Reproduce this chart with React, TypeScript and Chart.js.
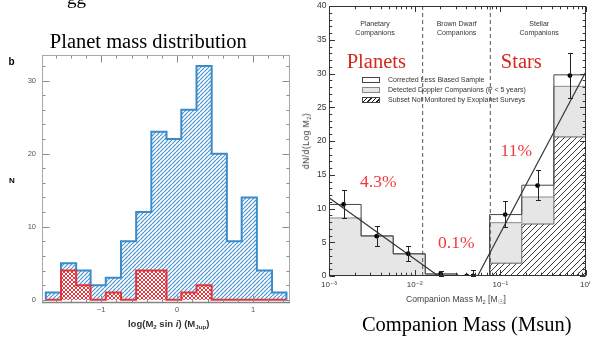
import React, { useEffect, useRef } from 'react';
import { Chart, registerables } from 'chart.js';

Chart.register(...registerables);

// ---------- Left panel: planet mass distribution ----------
const planetBinEdges = [-1.73, -1.53, -1.33, -1.14, -0.94, -0.74, -0.54, -0.34, -0.14, 0.055, 0.255, 0.455, 0.655, 0.85, 1.05, 1.25, 1.44];
const allPlanetCounts = [1, 5, 4, 2, 3, 8, 12, 23, 22, 26, 32, 20, 8, 14, 4, 1];
const subsetPlanetCounts = [0, 4, 2, 0, 1, 0, 4, 4, 0, 1, 2, 0, 0, 0, 0, 0];
const planetXTicks = [-1, 0, 1];
const planetXTickLabels = ['−1', '0', '1'];
const planetYTicks = [0, 10, 20, 30];
const planetYTickLabels = ['0', '10', '20', '30'];

// ---------- Right panel: companion mass function ----------
const massBinEdges = [0.001, 0.00237, 0.00562, 0.0133, 0.0316, 0.075, 0.178, 0.422, 1];
const correctedValues = [10.6, 5.95, 3.3, 0.3, 0, 9.1, 13.45, 29.8];
const detectedValues = [8.6, 5.9, 3.25, 0.3, 0, 7.9, 11.7, 28.1];
const notMonitoredValues = [0, 0, 0, 0, 0, 1.9, 7.7, 20.6];
const pointMasses = [0.00148, 0.00361, 0.00841, 0.0201, 0.0405, 0.0479, 0.114, 0.272, 0.649];
const pointValues = [10.6, 5.9, 3.3, 0.3, 0, 0, 9.1, 13.4, 29.7];
const pointLow = [8.6, 4.5, 2.2, 0, 0, 0, 7.2, 11.2, 26.4];
const pointHigh = [12.7, 7.4, 4.4, 0.7, 0, 0.9, 11.1, 15.7, 33.0];
const planetFitMass = [0.001, 0.0189];
const planetFitValue = [11.6, 0];
const stellarFitMass = [0.0543, 1];
const stellarFitValue = [0, 30.3];
const boundaryMasses = [0.0124, 0.0764];
const massXTicks = [0.001, 0.01, 0.1, 1];
const massXTickLabels = ['10⁻³', '10⁻²', '10⁻¹', '10⁰'];
const massYTicks = [0, 5, 10, 15, 20, 25, 30, 35, 40];
const massYTickLabels = ['0', '5', '10', '15', '20', '25', '30', '35', '40'];
const legendLabels = [
  'Corrected Less Biased Sample',
  'Detected Doppler Companions (P < 5 years)',
  'Subset Not Monitored by Exoplanet Surveys',
];

// minor tick positions
const planetMinorX: number[] = [];
for (let k = -8; k <= 7; k++) if (k % 5 !== 0) planetMinorX.push(k / 5);
const planetMinorY: number[] = [];
for (let k = 1; k <= 16; k++) if (k % 5 !== 0) planetMinorY.push(k * 2);
const massMinorX: number[] = [];
for (const d of [0.001, 0.01, 0.1]) for (let m = 2; m <= 9; m++) massMinorX.push(m * d);
const massMinorY: number[] = [];
for (let k = 1; k < 40; k++) if (k % 5 !== 0) massMinorY.push(k);

function stepPoints(edges: number[], counts: number[]) {
  const pts = [{ x: edges[0], y: 0 }];
  counts.forEach((c, i) => pts.push({ x: edges[i], y: c }));
  pts.push({ x: edges[edges.length - 1], y: counts[counts.length - 1] });
  pts.push({ x: edges[edges.length - 1], y: 0 });
  return pts;
}

function makePattern(ctx: CanvasRenderingContext2D, size: number, color: string, lw: number, cross: boolean) {
  const c = document.createElement('canvas');
  c.width = size;
  c.height = size;
  const g = c.getContext('2d')!;
  g.fillStyle = '#ffffff';
  g.fillRect(0, 0, size, size);
  g.strokeStyle = color;
  g.lineWidth = lw;
  g.beginPath();
  for (const o of [-size, 0, size]) {
    g.moveTo(o, size);
    g.lineTo(o + size, 0);
  }
  g.stroke();
  if (cross) {
    g.beginPath();
    for (const o of [-size, 0, size]) {
      g.moveTo(o, 0);
      g.lineTo(o + size, size);
    }
    g.stroke();
  }
  return ctx.createPattern(c, 'repeat')!;
}

interface FrameSpec {
  xMajor: number[]; xMinor: number[]; yMajor: number[]; yMinor: number[];
  tickColor: string; frameColor: string; bottomColor: string; bottomWidth: number;
  majorLen: number; minorLen: number;
}

function framePlugin(spec: FrameSpec) {
  return {
    id: 'frameTicks',
    afterDatasetsDraw(chart: any) {
      const { ctx, chartArea: a, scales } = chart;
      const xs = scales.x;
      const ys = scales.y;
      const L = Math.round(a.left) + 0.5;
      const R = Math.round(a.right) - 0.5;
      const T = Math.round(a.top) + 0.5;
      const B = Math.round(a.bottom) - 0.5;
      ctx.save();
      ctx.lineWidth = 1;
      ctx.strokeStyle = spec.tickColor;
      const seg = (x1: number, y1: number, x2: number, y2: number) => {
        ctx.beginPath();
        ctx.moveTo(x1, y1);
        ctx.lineTo(x2, y2);
        ctx.stroke();
      };
      const xTick = (v: number, len: number) => {
        const p = Math.round(xs.getPixelForValue(v)) + 0.5;
        seg(p, B, p, B - len);
        seg(p, T, p, T + len);
      };
      const yTick = (v: number, len: number) => {
        const p = Math.round(ys.getPixelForValue(v)) + 0.5;
        seg(L, p, L + len, p);
        seg(R, p, R - len, p);
      };
      spec.xMajor.forEach((v) => xTick(v, spec.majorLen));
      spec.xMinor.forEach((v) => xTick(v, spec.minorLen));
      spec.yMajor.forEach((v) => yTick(v, spec.majorLen));
      spec.yMinor.forEach((v) => yTick(v, spec.minorLen));
      ctx.strokeStyle = spec.frameColor;
      ctx.strokeRect(L, T, R - L, B - T);
      ctx.strokeStyle = spec.bottomColor;
      ctx.lineWidth = spec.bottomWidth;
      seg(L - 0.5, B, R + 0.5, B);
      ctx.restore();
    },
  };
}

const errorBarPlugin = {
  id: 'errorBars',
  afterDatasetsDraw(chart: any) {
    const { ctx, scales } = chart;
    const xs = scales.x;
    const ys = scales.y;
    ctx.save();
    ctx.strokeStyle = '#222';
    ctx.lineWidth = 1;
    pointMasses.forEach((m, i) => {
      if (pointHigh[i] <= pointLow[i]) return;
      const px = Math.round(xs.getPixelForValue(m)) + 0.5;
      const lo = Math.round(ys.getPixelForValue(pointLow[i])) + 0.5;
      const hi = Math.round(ys.getPixelForValue(pointHigh[i])) + 0.5;
      ctx.beginPath();
      ctx.moveTo(px, lo);
      ctx.lineTo(px, hi);
      ctx.moveTo(px - 2.5, lo);
      ctx.lineTo(px + 2.5, lo);
      ctx.moveTo(px - 2.5, hi);
      ctx.lineTo(px + 2.5, hi);
      ctx.stroke();
    });
    ctx.restore();
  },
};

const SANS = '"Liberation Sans", Arial, sans-serif';
const SERIF = '"Liberation Serif", "Times New Roman", serif';

function Label(props: {
  x: number; base: number; size: number; serif?: boolean; color?: string; bold?: boolean;
  align?: 'center' | 'left'; family?: string; spacing?: number; children: React.ReactNode;
}) {
  const { x, base, size, serif, color = '#000', bold, align = 'center', family, spacing, children } = props;
  const k = serif ? 0.8375 : 0.8465;
  return (
    <div
      style={{
        position: 'absolute',
        left: x,
        top: base - k * size,
        fontFamily: family || (serif ? SERIF : SANS),
        fontSize: size,
        lineHeight: `${size}px`,
        color,
        fontWeight: bold ? 700 : 400,
        whiteSpace: 'nowrap',
        letterSpacing: spacing,
        transform: align === 'center' ? 'translateX(-50%)' : undefined,
      }}
    >
      {children}
    </div>
  );
}

function Sub({ children, scale = 0.65 }: { children: React.ReactNode; scale?: number }) {
  return <span style={{ fontSize: `${scale}em`, verticalAlign: '-0.3em', lineHeight: 1 }}>{children}</span>;
}

export default function App() {
  const leftRef = useRef<HTMLCanvasElement>(null);
  const rightRef = useRef<HTMLCanvasElement>(null);

  useEffect(() => {
    const canvas = leftRef.current!;
    const ctx = canvas.getContext('2d')!;
    const blue = '#3a8bca';
    const red = '#e2343a';
    const bluePattern = makePattern(ctx, 4, '#4a95cf', 1.2, false);
    const redPattern = makePattern(ctx, 4, '#e0383e', 1, true);
    const tickFont = { size: 7.5, family: SANS };
    const chart = new Chart(ctx, {
      type: 'line',
      data: {
        datasets: [
          {
            label: 'subset',
            data: stepPoints(planetBinEdges, subsetPlanetCounts),
            stepped: true,
            borderColor: red,
            borderWidth: 2,
            backgroundColor: redPattern,
            fill: 'origin',
            pointRadius: 0,
            order: 1,
          },
          {
            label: 'all',
            data: stepPoints(planetBinEdges, allPlanetCounts),
            stepped: true,
            borderColor: blue,
            borderWidth: 2,
            backgroundColor: bluePattern,
            fill: 'origin',
            pointRadius: 0,
            order: 2,
          },
        ],
      },
      options: {
        animation: false,
        responsive: false,
        maintainAspectRatio: false,
        layout: { padding: { top: 55, right: 10.5, left: 0, bottom: 0 } },
        plugins: { legend: { display: false }, tooltip: { enabled: false } },
        scales: {
          x: {
            type: 'linear',
            min: -1.78,
            max: 1.48,
            grid: { display: false, drawTicks: false },
            border: { display: false },
            ticks: {
              color: '#555',
              font: tickFont,
              padding: 3,
              maxRotation: 0,
              autoSkip: false,
              callback: (_v: any, i: number) => planetXTickLabels[i],
            },
            afterBuildTicks: (s: any) => {
              s.ticks = planetXTicks.map((v) => ({ value: v }));
            },
            afterFit: (s: any) => {
              s.height = 338 - 302.7;
              s.paddingLeft = 0;
              s.paddingRight = 0;
            },
          },
          y: {
            type: 'linear',
            min: -0.4,
            max: 33.5,
            grid: { display: false, drawTicks: false },
            border: { display: false },
            ticks: {
              color: '#555',
              font: tickFont,
              padding: 6,
              autoSkip: false,
              callback: (_v: any, i: number) => planetYTickLabels[i],
            },
            afterBuildTicks: (s: any) => {
              s.ticks = planetYTicks.map((v) => ({ value: v }));
            },
            afterFit: (s: any) => {
              s.width = 42;
              s.paddingTop = 0;
              s.paddingBottom = 0;
            },
          },
        },
      },
      plugins: [
        framePlugin({
          xMajor: planetXTicks, xMinor: planetMinorX, yMajor: planetYTicks, yMinor: planetMinorY,
          tickColor: '#8a8a8a', frameColor: '#a8a8a8', bottomColor: '#858585', bottomWidth: 1.5,
          majorLen: 7, minorLen: 3,
        }),
      ],
    } as any);
    return () => chart.destroy();
  }, []);

  useEffect(() => {
    const canvas = rightRef.current!;
    const ctx = canvas.getContext('2d')!;
    const hatch = makePattern(ctx, 6, '#222', 0.9, false);
    const datasets: any[] = [
      {
        label: 'detected',
        data: stepPoints(massBinEdges, detectedValues),
        stepped: true,
        borderColor: '#8a8a8a',
        borderWidth: 1,
        backgroundColor: '#e6e6e6',
        fill: 'origin',
        pointRadius: 0,
        order: 6,
      },
      {
        label: 'notMonitored',
        data: stepPoints(massBinEdges, notMonitoredValues),
        stepped: true,
        borderColor: '#666',
        borderWidth: 1,
        backgroundColor: hatch,
        fill: 'origin',
        pointRadius: 0,
        order: 5,
      },
      {
        label: 'corrected',
        data: stepPoints(massBinEdges, correctedValues),
        stepped: true,
        borderColor: '#444',
        borderWidth: 1,
        fill: false,
        pointRadius: 0,
        order: 4,
      },
      ...boundaryMasses.map((m) => ({
        label: 'boundary',
        data: [{ x: m, y: 0 }, { x: m, y: 40 }],
        borderColor: '#555',
        borderWidth: 1,
        borderDash: [4, 3],
        fill: false,
        pointRadius: 0,
        order: 3,
      })),
      {
        label: 'planetFit',
        data: planetFitMass.map((m, i) => ({ x: m, y: planetFitValue[i] })),
        borderColor: '#333',
        borderWidth: 1.2,
        fill: false,
        pointRadius: 0,
        order: 2,
      },
      {
        label: 'stellarFit',
        data: stellarFitMass.map((m, i) => ({ x: m, y: stellarFitValue[i] })),
        borderColor: '#333',
        borderWidth: 1.2,
        fill: false,
        pointRadius: 0,
        order: 2,
      },
      {
        label: 'points',
        data: pointMasses.map((m, i) => ({ x: m, y: pointValues[i] })),
        showLine: false,
        pointRadius: 2.4,
        pointBackgroundColor: '#000',
        pointBorderColor: '#000',
        pointBorderWidth: 0,
        order: 1,
      },
    ];
    const chart = new Chart(ctx, {
      type: 'line',
      data: { datasets },
      options: {
        animation: false,
        responsive: false,
        maintainAspectRatio: false,
        layout: { padding: { top: 6, right: 3.3, left: 0, bottom: 0 } },
        plugins: { legend: { display: false }, tooltip: { enabled: false } },
        scales: {
          x: {
            type: 'logarithmic',
            min: 0.001,
            max: 1,
            grid: { display: false, drawTicks: false },
            border: { display: false },
            ticks: {
              color: '#333',
              font: { size: 8, family: '"Liberation Sans", "DejaVu Sans", sans-serif' },
              padding: 4,
              maxRotation: 0,
              autoSkip: false,
              callback: (_v: any, i: number) => massXTickLabels[i],
            },
            afterBuildTicks: (s: any) => {
              s.ticks = massXTicks.map((v) => ({ value: v }));
            },
            afterFit: (s: any) => {
              s.height = 62;
              s.paddingLeft = 0;
              s.paddingRight = 0;
            },
          },
          y: {
            type: 'linear',
            min: 0,
            max: 40,
            grid: { display: false, drawTicks: false },
            border: { display: false },
            ticks: {
              color: '#333',
              font: { size: 8.5, family: SANS },
              padding: 2.5,
              autoSkip: false,
              callback: (_v: any, i: number) => massYTickLabels[i],
            },
            afterBuildTicks: (s: any) => {
              s.ticks = massYTicks.map((v) => ({ value: v }));
            },
            afterFit: (s: any) => {
              s.width = 29;
              s.paddingTop = 0;
              s.paddingBottom = 0;
            },
          },
        },
      },
      plugins: [
        errorBarPlugin,
        framePlugin({
          xMajor: massXTicks, xMinor: massMinorX, yMajor: massYTicks, yMinor: massMinorY,
          tickColor: '#333', frameColor: '#333', bottomColor: '#333', bottomWidth: 1,
          majorLen: 5.5, minorLen: 2.8,
        }),
      ],
    } as any);
    return () => chart.destroy();
  }, []);

  const swatches: React.CSSProperties[] = [
    { background: '#fff', border: '1px solid #444' },
    { background: '#e6e6e6', border: '1px solid #888' },
    { background: 'repeating-linear-gradient(135deg, #fff 0 2.2px, #222 2.2px 3.2px)', border: '1px solid #444' },
  ];

  return (
    <div style={{ position: 'fixed', left: 0, top: 0, width: 590, height: 338, background: '#fff', overflow: 'hidden' }}>
      <canvas ref={leftRef} width={300} height={338} style={{ position: 'absolute', left: 0, top: 0, width: 300, height: 338 }} />
      <canvas ref={rightRef} width={290} height={338} style={{ position: 'absolute', left: 300, top: 0, width: 290, height: 338 }} />

      {/* cut-off text from above */}
      <Label x={67} base={4} size={19} serif align="left">gg</Label>

      {/* left panel texts */}
      <Label x={148.3} base={48.3} size={20.5} serif>Planet mass distribution</Label>
      <Label x={8.5} base={65} size={10} bold align="left">b</Label>
      <Label x={9} base={183.5} size={8} bold align="left">N</Label>
      <Label x={168.7} base={327} size={9.5} bold color="#333">
        log(M<Sub>2</Sub> sin <i>i</i>) (M<Sub>Jup</Sub>)
      </Label>

      {/* right panel texts */}
      <Label x={375} base={25.5} size={7} color="#333">Planetary</Label>
      <Label x={375} base={35.3} size={7} color="#333">Companions</Label>
      <Label x={456.7} base={25.5} size={7} color="#333">Brown Dwarf</Label>
      <Label x={456.7} base={35.3} size={7} color="#333">Companions</Label>
      <Label x={539.2} base={25.5} size={7} color="#333">Stellar</Label>
      <Label x={539.2} base={35.3} size={7} color="#333">Companions</Label>

      <Label x={376.3} base={68.3} size={20.5} serif color="#d22a1e">Planets</Label>
      <Label x={521.3} base={68.3} size={20.5} serif color="#d22a1e">Stars</Label>
      <Label x={378.3} base={187.5} size={17.5} serif color="#f03a3e">4.3%</Label>
      <Label x={516.3} base={156.3} size={17.5} serif color="#f03a3e">11%</Label>
      <Label x={456.3} base={249} size={17.5} serif color="#f03a3e">0.1%</Label>

      {legendLabels.map((t, i) => (
        <React.Fragment key={t}>
          <div
            style={{
              position: 'absolute',
              left: 362,
              top: 76.5 + i * 10,
              width: 18,
              height: 6.5,
              boxSizing: 'border-box',
              ...swatches[i],
            }}
          />
          <Label x={388} base={82.3 + i * 10} size={7} color="#333" align="left">{t}</Label>
        </React.Fragment>
      ))}

      <div
        style={{
          position: 'absolute',
          left: 307,
          top: 141,
          transform: 'translate(-50%, -50%) rotate(-90deg)',
          fontFamily: SANS,
          fontSize: 8.5,
          lineHeight: '9px',
          color: '#333',
          whiteSpace: 'nowrap',
          letterSpacing: 0.5,
        }}
      >
        dN/d(Log M<Sub>2</Sub>)
      </div>
      <Label x={456} base={302} size={8.6} color="#444">
        Companion Mass M<Sub>2</Sub> [M<Sub scale={0.8}>☉</Sub>]
      </Label>
      <Label x={466.7} base={331.5} size={20.5} serif>Companion Mass (Msun)</Label>
    </div>
  );
}
